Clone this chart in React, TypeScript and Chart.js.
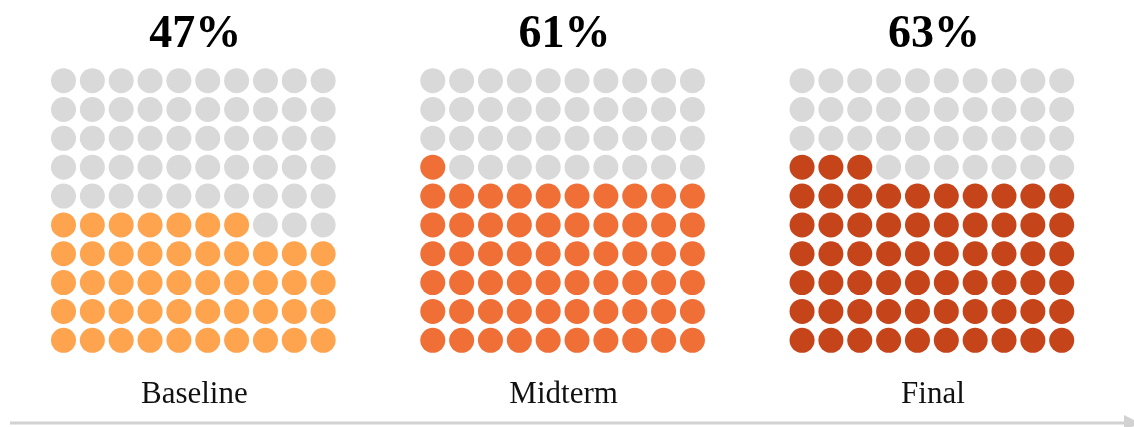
import React, { useEffect, useRef } from "react";
import { Chart, registerables } from "chart.js";

Chart.register(...registerables);

const categories: string[] = ["Baseline", "Midterm", "Final"];
const percentages: number[] = [47, 61, 63];
const fillColors: string[] = ["#fea44f", "#ef6f37", "#c5441a"];
const emptyColor = "#d9d9d9";
const gridColumns = 10;
const gridRows = 10;

// layout constants (data units)
const PANEL_GAP = 12.8;

const overlayPlugin = {
  id: "waffleText",
  afterDraw(chart: any) {
    const { ctx } = chart;
    const xs = chart.scales.x;
    const ys = chart.scales.y;
    ctx.save();
    categories.forEach((cat, p) => {
      const cx = xs.getPixelForValue(p * PANEL_GAP + (gridColumns - 1) / 2);
      const topY = ys.getPixelForValue(gridRows - 1);
      const botY = ys.getPixelForValue(0);
      ctx.fillStyle = "#000";
      ctx.textAlign = "center";
      ctx.textBaseline = "alphabetic";
      ctx.font = "bold 46px 'Liberation Serif', serif";
      ctx.fillText(`${percentages[p]}%`, cx + 2, topY - 34);
      ctx.fillStyle = "#111";
      ctx.font = "31px 'Liberation Serif', serif";
      ctx.fillText(cat, cx + 1, botY + 63);
    });
    // timeline arrow
    const w = chart.width;
    const ay = 423;
    ctx.strokeStyle = "#d2d2d2";
    ctx.lineWidth = 3;
    ctx.beginPath();
    ctx.moveTo(10, ay);
    ctx.lineTo(w - 10, ay);
    ctx.stroke();
    ctx.fillStyle = "#d2d2d2";
    ctx.beginPath();
    ctx.moveTo(w - 10, ay - 8);
    ctx.lineTo(w + 6, ay);
    ctx.lineTo(w - 10, ay + 8);
    ctx.closePath();
    ctx.fill();
    ctx.restore();
  },
};

export default function App() {
  const ref = useRef<HTMLCanvasElement | null>(null);
  useEffect(() => {
    if (!ref.current) return;
    const datasets = categories.map((cat, p) => {
      const pts: { x: number; y: number }[] = [];
      const colors: string[] = [];
      for (let i = 0; i < gridColumns * gridRows; i++) {
        const row = Math.floor(i / gridColumns);
        const col = i % gridColumns;
        pts.push({ x: p * PANEL_GAP + col, y: row });
        colors.push(i < percentages[p] ? fillColors[p] : emptyColor);
      }
      return {
        label: cat,
        data: pts,
        pointBackgroundColor: colors,
        backgroundColor: colors,
        pointBorderWidth: 0,
        borderWidth: 0,
        pointRadius: 12.5,
        pointHoverRadius: 12.5,
        showLine: false,
      };
    });
    const unit = 28.85;
    const xMin = -63.5 / unit;
    const xMax = xMin + 1134 / unit;
    const yMax = 340.3 / unit;
    const yMin = yMax - 427 / unit;
    const chart = new Chart(ref.current, {
      type: "scatter",
      data: { datasets },
      options: {
        animation: false,
        responsive: false,
        layout: { padding: 0, autoPadding: false },
        plugins: {
          legend: { display: false },
          tooltip: { enabled: false },
          title: { display: false },
        },
        scales: {
          x: { type: "linear", display: false, min: xMin, max: xMax },
          y: { type: "linear", display: false, min: yMin, max: yMax },
        },
      },
      plugins: [overlayPlugin],
    } as any);
    return () => chart.destroy();
  }, []);
  return (
    <div style={{ position: "fixed", left: 0, top: 0, width: 1134, height: 427, background: "#fff" }}>
      <canvas ref={ref} width={1134} height={427} style={{ display: "block" }} />
    </div>
  );
}
